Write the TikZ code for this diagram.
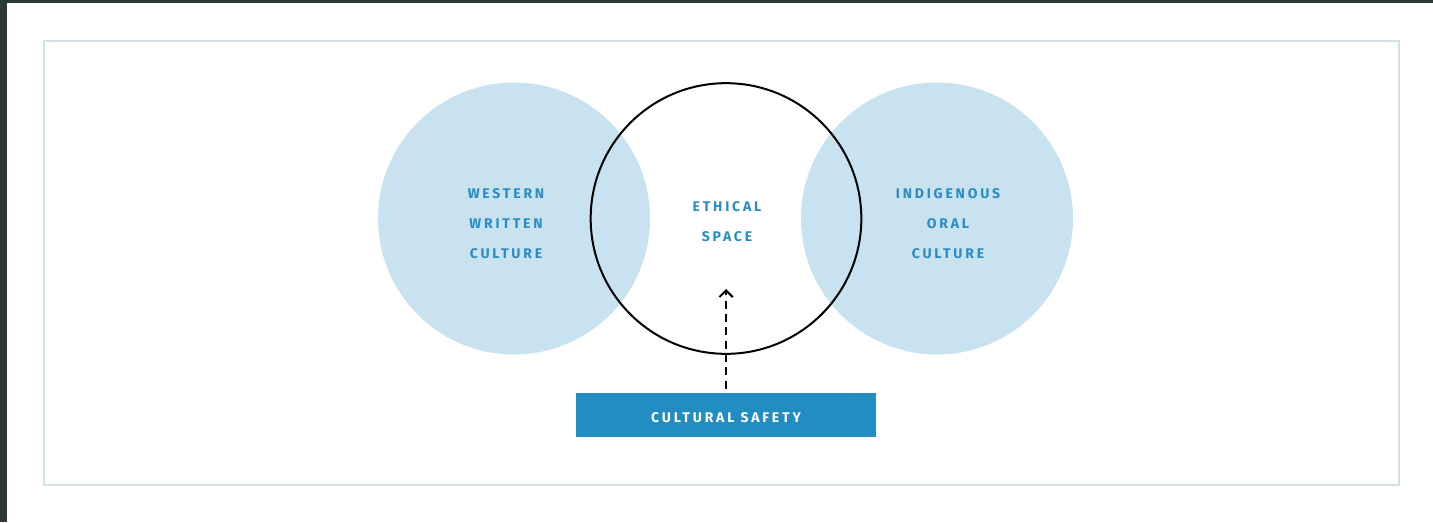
\documentclass[tikz,border=0pt]{standalone}
\usepackage{fontspec}
\setmainfont{Fira Sans}[LetterSpace=20]
\usepackage{xcolor}
\usetikzlibrary{arrows.meta}
\definecolor{edgedark}{HTML}{2B3A36}
\definecolor{framegrey}{HTML}{CFE2E6}
\definecolor{culturefill}{HTML}{C9E2EF}
\definecolor{labelblue}{HTML}{2A8CC4}
\definecolor{safetyblue}{HTML}{228DC1}
\tikzset{
	culture/.style={circle, fill=culturefill, minimum size=204pt},
	label text/.style={text=labelblue, font=\bfseries\fontsize{10.5}{22.5}\selectfont, align=center},
	space ring/.style={circle, draw=black, line width=1.5pt, minimum size=203pt},
	safety box/.style={fill=safetyblue, text=white, minimum width=225pt, minimum height=33pt,
		text height=7.5pt, text depth=0pt, font=\bfseries\fontsize{10.5}{12}\selectfont}
}

\begin{document}
\begin{tikzpicture}[x=0.75pt, y=-0.75pt]
	\useasboundingbox (0,0) rectangle (1433,522);
	\fill[edgedark] (0,0) rectangle (1433,522);
	\fill[white] (7,3) rectangle (1433,522);
	\draw[framegrey, line width=1.5pt] (43.5,41) rectangle (1399,485);

	\node[culture] (western) at (514,218.5) {};
	\node[culture] (indigenous) at (937,218.5) {};
	\node[space ring] (ethical) at (726,218.5) {};

	\node[label text] at (506,223.5) {WESTERN\\WRITTEN\\CULTURE};
	\node[label text] at (948,223.5) {INDIGENOUS\\ORAL\\CULTURE};
	\node[label text] at (727,222) {ETHICAL\\SPACE};

	\node[safety box] (safety) at (726,415) {\raisebox{-1.5pt}{CULTURAL SAFETY}};
	\coordinate (arrowtip) at (726,289);
	\draw[dash pattern=on 6pt off 4pt, line width=1.5pt, -{Straight Barb[length=5pt, width=10pt]}]
		([yshift=3]safety.north) -- (arrowtip);
\end{tikzpicture}
\end{document}
